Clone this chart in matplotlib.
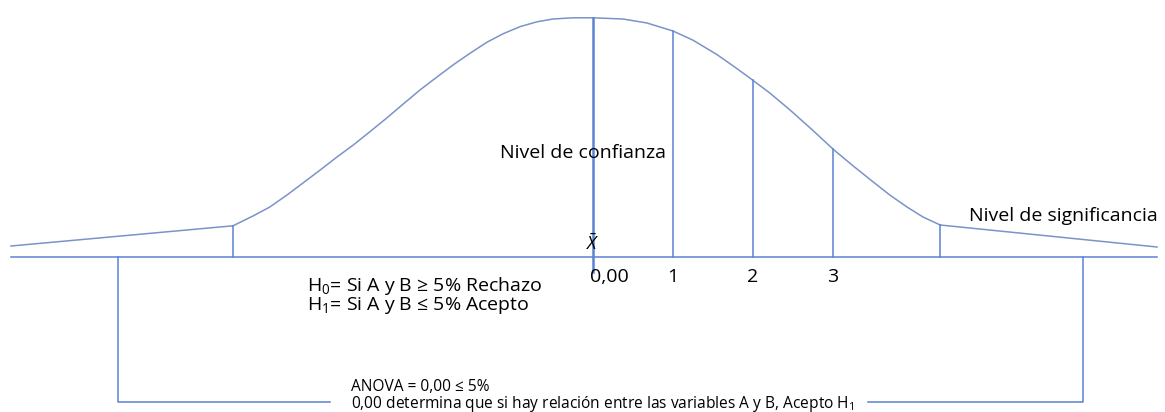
import numpy as np
import matplotlib
matplotlib.use("Agg")
import matplotlib.pyplot as plt

plt.rcParams['font.family'] = ['Open Sans', 'DejaVu Sans']
plt.rcParams['mathtext.fontset'] = 'custom'
plt.rcParams['mathtext.rm'] = 'Open Sans'
plt.rcParams['mathtext.it'] = 'Open Sans:italic'

# curva normal (x en unidades, altura sobre la base)
curva_x = [-4.50, -4.25, -4.04, -3.825, -3.625, -3.41, -3.20, -2.99, -2.79, -2.575,
           -2.375, -2.16, -1.95, -1.75, -1.54, -1.325, -1.125, -0.91, -0.70, -0.50,
           -0.25, 0.0, 0.375, 0.675, 1.0, 1.25, 1.55, 1.75, 1.95, 2.21,
           2.46, 2.74, 3.01, 3.25, 3.50, 3.71, 3.925, 4.125, 4.34]
curva_y = [0.39, 0.5125, 0.625, 0.775, 0.925, 1.0875, 1.25, 1.405, 1.565, 1.74,
           1.91, 2.09, 2.25, 2.40, 2.545, 2.685, 2.79, 2.88, 2.94, 2.975,
           2.99, 2.99, 2.975, 2.925, 2.825, 2.71, 2.53, 2.39, 2.245, 2.05,
           1.84, 1.59, 1.34, 1.14, 0.94, 0.775, 0.625, 0.50, 0.40]
cola_izq_x = [-7.275, -4.50]
cola_izq_y = [0.1375, 0.39]
cola_der_x = [4.34, 7.05]
cola_der_y = [0.40, 0.125]

marcas = [1, 2, 3]
etiquetas = ["1", "2", "3"]

color_curva = '#7b93c9'
color_linea = '#5b83d2'

fig = plt.figure(figsize=(11.65, 4.12), dpi=100)
ax = fig.add_axes([0, 0, 1, 1])
ax.set_xlim(-593 / 80, (1165 - 593) / 80)
ax.set_ylim((257 - 412) / 80, 257 / 80)
ax.axis('off')

ax.plot(curva_x, curva_y, color=color_curva, lw=1.1)
ax.plot(cola_izq_x, cola_izq_y, color=color_curva, lw=1.1)
ax.plot(cola_der_x, cola_der_y, color=color_curva, lw=1.1)

# linea base
ax.plot([cola_izq_x[0], cola_der_x[-1]], [0, 0], color=color_linea, lw=1.1)

# media
ax.plot([0, 0], [-0.19, max(curva_y)], color=color_linea, lw=1.8)
# divisiones 1, 2, 3
for m in marcas:
    ax.plot([m, m], [0, np.interp(m, curva_x, curva_y)], color=color_linea, lw=1.1)
# limites de la zona de confianza
for xl, yl in ((curva_x[0], curva_y[0]), (curva_x[-1], curva_y[-1])):
    ax.plot([xl, xl], [0, yl], color=color_linea, lw=1.1)

# corchete inferior
ax.plot([-3.29, -5.94, -5.94], [-1.8125, -1.8125, 0], color=color_linea, lw=1.1)
ax.plot([3.44, 6.125, 6.125], [-1.8125, -1.8125, 0], color=color_linea, lw=1.1)

fs = 14
ax.text(-0.04, -0.25, "0,00", fontsize=fs, ha='left', va='center')
for m, e in zip(marcas, etiquetas):
    ax.text(m, -0.25, e, fontsize=fs, ha='center', va='center')
ax.text(0, 0.17, r"$\bar{X}$", fontsize=13, ha='center', va='center')

ax.text(-1.1625, 1.3, "Nivel de confianza", fontsize=fs, ha='left', va='center')
ax.text(4.7, 0.51, "Nivel de significancia", fontsize=fs, ha='left', va='center')

ax.text(-3.575, -0.3625, r"H$_0$= Si A y B ≥ 5% Rechazo", fontsize=fs, ha='left', va='center')
ax.text(-3.575, -0.6125, r"H$_1$= Si A y B ≤ 5% Acepto", fontsize=fs, ha='left', va='center')

ax.text(-3.025, -1.625, "ANOVA = 0,00 ≤ 5%", fontsize=11.2, ha='left', va='center')
ax.text(-3.025, -1.8375, r"0,00 determina que si hay relación entre las variables A y B, Acepto H$_1$",
        fontsize=11.2, ha='left', va='center')

fig.savefig("out.png", dpi=100)
